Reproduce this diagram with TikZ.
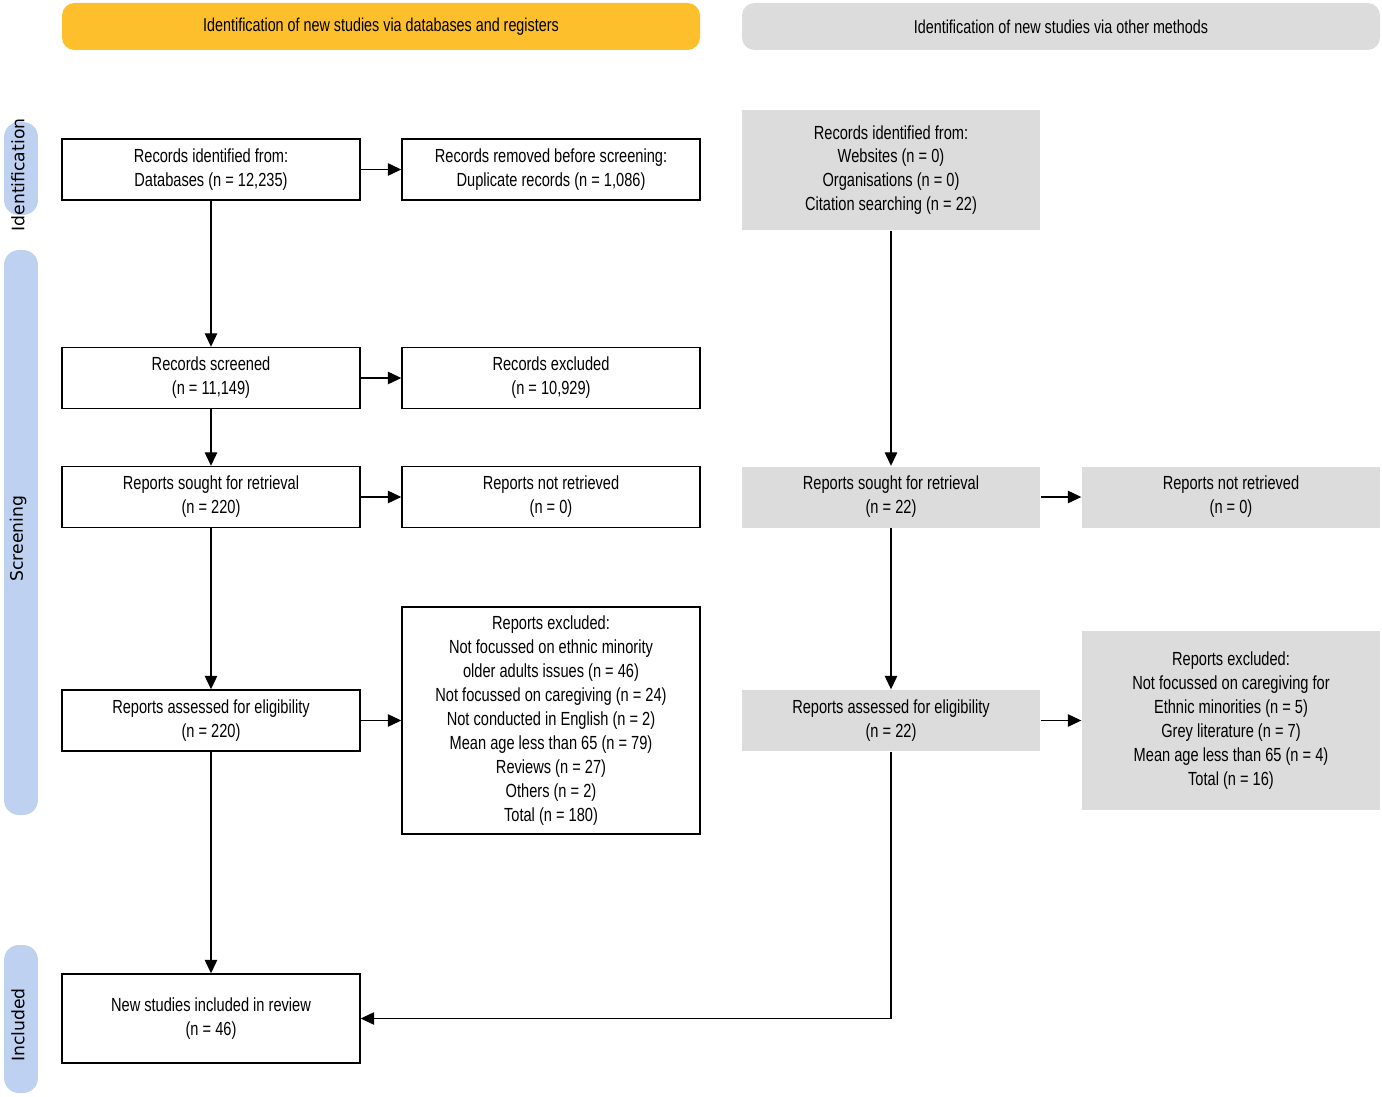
\documentclass[tikz,border=0pt]{standalone}
\usepackage{fontspec}
\setmainfont[FakeStretch=0.77]{Liberation Sans}
\newfontfamily\sidefont{DejaVu Sans}
\usetikzlibrary{arrows.meta}
\definecolor{headyellow}{HTML}{FDBF2B}
\definecolor{boxgrey}{HTML}{DCDCDC}
\definecolor{sideblue}{HTML}{BED1F0}

\begin{document}
\begin{tikzpicture}[
    box/.style={draw, line width=0.8pt, minimum width=5.96cm, minimum height=1.22cm, align=center, inner sep=2pt, font=\fontsize{10.8}{13.6}\selectfont},
    greybox/.style={box, draw=none, fill=boxgrey},
    head/.style={rounded corners=0.25cm, minimum width=12.76cm, minimum height=0.94cm, font=\fontsize{10.6}{12}\selectfont},
    side/.style={fill=sideblue, rounded corners=0.3cm, rotate=90, minimum height=0.68cm, inner sep=0pt},
    sidetext/.style={rotate=90, inner sep=0pt, font=\sidefont\fontsize{9.8}{11}\selectfont},
    arr/.style={-{Triangle[length=0.27cm, width=0.25cm]}, line width=0.7pt}
]
    \useasboundingbox (0,0) rectangle (27.64,-21.94);

    % headers
    \node[head, fill=headyellow] (headdb) at (7.62, -0.53) {Identification of new studies via databases and registers};
    \node[head, fill=boxgrey] (headother) at (21.22, -0.53) {Identification of new studies via other methods};

    % phase labels
    \node[side, minimum width=1.86cm] (sideid) at (0.42, -3.37) {};
    \node[sidetext] (sideidtext) at (0.36, -3.5) {Identification};
    \node[side, minimum width=11.3cm] (sidescr) at (0.42, -10.65) {};
    \node[sidetext] (sidescrtext) at (0.36, -10.77) {Screening};
    \node[side, minimum width=2.96cm] (sideinc) at (0.42, -20.38) {};
    \node[sidetext] (sideinctext) at (0.36, -20.5) {Included};

    % databases and registers
    \node[box] (ident) at (4.22, -3.39) {Records identified from:\\Databases (n = 12,235)};
    \node[box] (removed) at (11.02, -3.39) {Records removed before screening:\\Duplicate records (n = 1,086)};
    \node[box] (screened) at (4.22, -7.56) {Records screened\\(n = 11,149)};
    \node[box] (excluded) at (11.02, -7.56) {Records excluded\\(n = 10,929)};
    \node[box] (sought) at (4.22, -9.94) {Reports sought for retrieval\\(n = 220)};
    \node[box] (notret) at (11.02, -9.94) {Reports not retrieved\\(n = 0)};
    \node[box] (assessed) at (4.22, -14.41) {Reports assessed for eligibility\\(n = 220)};
    \node[box, minimum height=4.54cm] (repexcl) at (11.02, -14.41) {Reports excluded:\\Not focussed on ethnic minority\\older adults issues (n = 46)\\Not focussed on caregiving (n = 24)\\Not conducted in English (n = 2)\\Mean age less than 65 (n = 79)\\Reviews (n = 27)\\Others (n = 2)\\Total (n = 180)};
    \node[box, minimum height=1.78cm] (included) at (4.22, -20.37) {New studies included in review\\(n = 46)};

    % other methods
    \node[greybox, minimum height=2.4cm] (oident) at (17.82, -3.40) {Records identified from:\\Websites (n = 0)\\Organisations (n = 0)\\Citation searching (n = 22)};
    \node[greybox] (osought) at (17.82, -9.94) {Reports sought for retrieval\\(n = 22)};
    \node[greybox] (onotret) at (24.62, -9.94) {Reports not retrieved\\(n = 0)};
    \node[greybox] (oassessed) at (17.82, -14.41) {Reports assessed for eligibility\\(n = 22)};
    \node[greybox, minimum height=3.58cm] (orepexcl) at (24.62, -14.41) {Reports excluded:\\Not focussed on caregiving for\\Ethnic minorities (n = 5)\\Grey literature (n = 7)\\Mean age less than 65 (n = 4)\\Total (n = 16)};

    \draw[arr] (ident) -- (removed);
    \draw[arr] (ident) -- (screened);
    \draw[arr] (screened) -- (excluded);
    \draw[arr] (screened) -- (sought);
    \draw[arr] (sought) -- (notret);
    \draw[arr] (sought) -- (assessed);
    \draw[arr] (assessed) -- (repexcl);
    \draw[arr] (assessed) -- (included);

    \draw[arr] (oident) -- (osought);
    \draw[arr] (osought) -- (onotret);
    \draw[arr] (osought) -- (oassessed);
    \draw[arr] (oassessed) -- (orepexcl);
    \draw[arr] (oassessed.south) |- (included.east);
\end{tikzpicture}
\end{document}
